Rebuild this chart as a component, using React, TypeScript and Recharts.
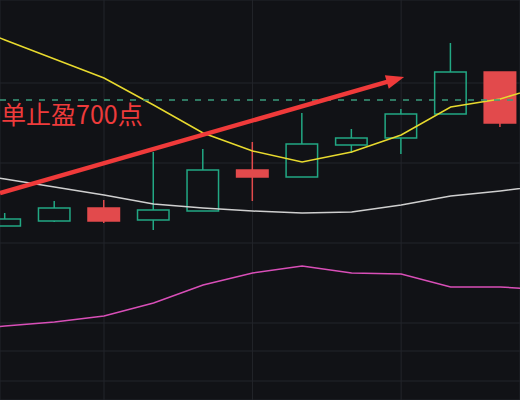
import { ComposedChart, Bar, Line, XAxis, YAxis, CartesianGrid, ReferenceLine } from "recharts";

// candle index: -1 and 11 only carry the moving averages (they run off the edges)
const idx = [-1, 0, 1, 2, 3, 4, 5, 6, 7, 8, 9, 10, 11];

const open = [null, 3177, 3182, 3195, 3183, 3192, 3233, 3226, 3258, 3265, 3289, 3331, null];
const high = [null, 3190, 3202, 3203, 3251, 3254, 3261, 3290, 3274, 3294, 3360, 3331, null];
const low = [null, 3177, 3181, 3180, 3173, 3192, 3202, 3226, 3250, 3249, 3289, 3276, null];
const close = [null, 3184, 3195, 3182, 3193, 3233, 3226, 3259, 3265, 3289, 3331, 3280, null];

const maFast = [3383, 3363, 3344, 3325, 3298, 3270, 3252, 3241, 3251, 3268, 3296, 3304, 3319];
const maMid = [3231, 3224, 3216, 3208, 3199, 3195, 3192, 3190, 3191, 3198, 3207, 3212, 3218];
const maSlow = [3073, 3077, 3081, 3087, 3100, 3118, 3130, 3137, 3130, 3129, 3116, 3116, 3113];

const gridTicks = [3400, 3320, 3240, 3160, 3080, 3052, 3022];
const timeTicks = [2, 5, 8];

const takeProfit = 3303;
const takeProfitText = "单止盈700点";
const arrowFrom = { x: -0.1, y: 3210 };
const arrowTo = { x: 8.06, y: 3326 };

const UP = "#22a884";
const DOWN = "#e24a4c";

const data = idx.map((i, k) => ({
  i,
  open: open[k],
  high: high[k],
  low: low[k],
  close: close[k],
  range: open[k] == null ? null : [low[k], high[k]],
  maFast: maFast[k],
  maMid: maMid[k],
  maSlow: maSlow[k],
}));

function Candle(props: any) {
  const { x, y, width, height, payload } = props;
  if (!payload || payload.open == null || !height) return null;
  const { open: o, close: c, high: h, low: l } = payload;
  const ratio = height / (h - l);
  const cx = x + width / 2;
  const top = y + (h - Math.max(o, c)) * ratio;
  const bottom = y + (h - Math.min(o, c)) * ratio;
  const up = c >= o;
  const color = up ? UP : DOWN;
  return (
    <g>
      <line x1={cx} x2={cx} y1={y} y2={top} stroke={color} strokeWidth={1.5} />
      <line x1={cx} x2={cx} y1={bottom} y2={y + height} stroke={color} strokeWidth={1.5} />
      {up ? (
        <rect x={x + 0.75} y={top} width={width - 1.5} height={Math.max(bottom - top, 1)} fill="none" stroke={color} strokeWidth={1.5} />
      ) : (
        <rect x={x} y={top - 0.75} width={width} height={Math.max(bottom - top, 1) + 1.5} fill={color} />
      )}
    </g>
  );
}

function Arrow(props: any) {
  const { x1, y1, x2, y2 } = props;
  const a = Math.atan2(y2 - y1, x2 - x1);
  const len = 18;
  const half = 7;
  const bx = x2 - len * Math.cos(a);
  const by = y2 - len * Math.sin(a);
  const px = -Math.sin(a) * half;
  const py = Math.cos(a) * half;
  return (
    <g>
      <line x1={x1} y1={y1} x2={bx + 2 * Math.cos(a)} y2={by + 2 * Math.sin(a)} stroke="#f03a3a" strokeWidth={4.5} />
      <polygon points={`${x2},${y2} ${bx + px},${by + py} ${bx - px},${by - py}`} fill="#f03a3a" />
    </g>
  );
}

export default function App() {
  return (
    <div style={{ position: "absolute", left: 0, top: 0, width: 520, height: 400, background: "#111216", overflow: "hidden" }}>
      <ComposedChart width={520} height={400} data={data} margin={{ top: 0, right: 0, bottom: 0, left: 0 }}>
        <CartesianGrid stroke="#23252a" strokeWidth={1} />
        <XAxis dataKey="i" type="number" domain={[-0.1, 10.4]} ticks={timeTicks} allowDataOverflow hide />
        <YAxis type="number" domain={[3003, 3403]} ticks={gridTicks} allowDataOverflow hide />
        <Bar dataKey="range" barSize={33} shape={<Candle />} activeBar={false} isAnimationActive={false} />
        <Line type="linear" dataKey="maSlow" stroke="#d94fb8" strokeWidth={1.5} dot={false} activeDot={false} isAnimationActive={false} />
        <Line type="linear" dataKey="maMid" stroke="#cfcfcf" strokeWidth={1.5} dot={false} activeDot={false} isAnimationActive={false} />
        <Line type="linear" dataKey="maFast" stroke="#e8da2e" strokeWidth={1.5} dot={false} activeDot={false} isAnimationActive={false} />
        <ReferenceLine
          y={takeProfit}
          stroke="#3a9a7c"
          strokeWidth={1.5}
          strokeDasharray="6 7"
          ifOverflow="visible"
          label={{
            content: (p: any) => (
              <text
                x={(p.viewBox?.x ?? 0) + 1}
                y={(p.viewBox?.y ?? 0) + 24}
                fill="#ee3b3b"
                fontSize={25}
                fontFamily="'Noto Sans CJK SC', 'Noto Sans', sans-serif"
              >
                {takeProfitText}
              </text>
            ),
          }}
        />
        <ReferenceLine segment={[arrowFrom, arrowTo]} ifOverflow="visible" shape={<Arrow />} />
      </ComposedChart>
    </div>
  );
}
